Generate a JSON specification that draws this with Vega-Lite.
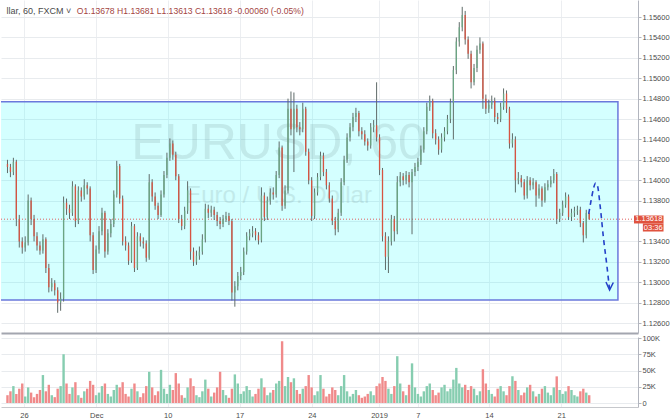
{
"$schema": "https://vega.github.io/schema/vega-lite/v6.json",
"padding": 0,
"background": "white",
"spacing": 1,
"config": {"view": {"stroke": null}, "axis": {"labelFont": "Liberation Sans", "labelFontSize": 7.5, "labelColor": "#4c4c4c", "labelOverlap": false}},
"datasets": {
"candles": [
{"k":0,"o":1.1416,"h":1.1420,"l":1.1407,"c":1.1413,"v":12000},
{"k":1,"o":1.1413,"h":1.1416,"l":1.1403,"c":1.1408,"v":18000},
{"k":2,"o":1.1408,"h":1.1422,"l":1.1405,"c":1.1418,"v":26000},
{"k":3,"o":1.1418,"h":1.1420,"l":1.1355,"c":1.1362,"v":14000},
{"k":4,"o":1.1362,"h":1.1366,"l":1.1334,"c":1.1340,"v":22000},
{"k":5,"o":1.1340,"h":1.1344,"l":1.1328,"c":1.1334,"v":30000},
{"k":6,"o":1.1334,"h":1.1345,"l":1.1330,"c":1.1339,"v":10000},
{"k":7,"o":1.1339,"h":1.1386,"l":1.1336,"c":1.1380,"v":24000},
{"k":8,"o":1.1380,"h":1.1383,"l":1.1356,"c":1.1362,"v":16000},
{"k":9,"o":1.1362,"h":1.1366,"l":1.1340,"c":1.1345,"v":9000},
{"k":10,"o":1.1345,"h":1.1349,"l":1.1331,"c":1.1336,"v":14000},
{"k":11,"o":1.1336,"h":1.1340,"l":1.1327,"c":1.1331,"v":20000},
{"k":12,"o":1.1331,"h":1.1347,"l":1.1328,"c":1.1342,"v":43000},
{"k":13,"o":1.1342,"h":1.1344,"l":1.1309,"c":1.1314,"v":18000},
{"k":14,"o":1.1314,"h":1.1318,"l":1.1290,"c":1.1295,"v":28000},
{"k":15,"o":1.1295,"h":1.1304,"l":1.1291,"c":1.1299,"v":12000},
{"k":16,"o":1.1299,"h":1.1302,"l":1.1287,"c":1.1292,"v":9000},
{"k":17,"o":1.1292,"h":1.1295,"l":1.1270,"c":1.1280,"v":22000},
{"k":18,"o":1.1280,"h":1.1290,"l":1.1272,"c":1.1284,"v":26000},
{"k":19,"o":1.1284,"h":1.1384,"l":1.1281,"c":1.1378,"v":75000},
{"k":20,"o":1.1378,"h":1.1382,"l":1.1366,"c":1.1372,"v":30000},
{"k":21,"o":1.1372,"h":1.1376,"l":1.1362,"c":1.1368,"v":14000},
{"k":22,"o":1.1368,"h":1.1399,"l":1.1365,"c":1.1394,"v":24000},
{"k":23,"o":1.1394,"h":1.1396,"l":1.1354,"c":1.1360,"v":32000},
{"k":24,"o":1.1360,"h":1.1394,"l":1.1357,"c":1.1390,"v":12000},
{"k":25,"o":1.1390,"h":1.1393,"l":1.1379,"c":1.1384,"v":8000},
{"k":26,"o":1.1384,"h":1.1401,"l":1.1381,"c":1.1395,"v":18000},
{"k":27,"o":1.1395,"h":1.1398,"l":1.1386,"c":1.1392,"v":22000},
{"k":28,"o":1.1392,"h":1.1394,"l":1.1340,"c":1.1346,"v":34000},
{"k":29,"o":1.1346,"h":1.1349,"l":1.1308,"c":1.1312,"v":28000},
{"k":30,"o":1.1312,"h":1.1336,"l":1.1309,"c":1.1332,"v":12000},
{"k":31,"o":1.1332,"h":1.1355,"l":1.1328,"c":1.1350,"v":16000},
{"k":32,"o":1.1350,"h":1.1373,"l":1.1346,"c":1.1368,"v":26000},
{"k":33,"o":1.1368,"h":1.1370,"l":1.1324,"c":1.1330,"v":30000},
{"k":34,"o":1.1330,"h":1.1352,"l":1.1327,"c":1.1348,"v":14000},
{"k":35,"o":1.1348,"h":1.1362,"l":1.1344,"c":1.1357,"v":10000},
{"k":36,"o":1.1357,"h":1.1390,"l":1.1354,"c":1.1386,"v":20000},
{"k":37,"o":1.1386,"h":1.1419,"l":1.1383,"c":1.1414,"v":28000},
{"k":38,"o":1.1414,"h":1.1416,"l":1.1377,"c":1.1382,"v":24000},
{"k":39,"o":1.1382,"h":1.1385,"l":1.1336,"c":1.1340,"v":32000},
{"k":40,"o":1.1340,"h":1.1345,"l":1.1331,"c":1.1336,"v":14000},
{"k":41,"o":1.1336,"h":1.1339,"l":1.1317,"c":1.1321,"v":10000},
{"k":42,"o":1.1321,"h":1.1359,"l":1.1319,"c":1.1355,"v":22000},
{"k":43,"o":1.1355,"h":1.1357,"l":1.1310,"c":1.1314,"v":30000},
{"k":44,"o":1.1314,"h":1.1349,"l":1.1312,"c":1.1345,"v":18000},
{"k":45,"o":1.1345,"h":1.1348,"l":1.1335,"c":1.1340,"v":9000},
{"k":46,"o":1.1340,"h":1.1344,"l":1.1333,"c":1.1338,"v":15000},
{"k":47,"o":1.1338,"h":1.1341,"l":1.1320,"c":1.1324,"v":26000},
{"k":48,"o":1.1324,"h":1.1406,"l":1.1322,"c":1.1398,"v":48000},
{"k":49,"o":1.1398,"h":1.1401,"l":1.1379,"c":1.1384,"v":24000},
{"k":50,"o":1.1384,"h":1.1388,"l":1.1371,"c":1.1375,"v":12000},
{"k":51,"o":1.1375,"h":1.1378,"l":1.1362,"c":1.1366,"v":18000},
{"k":52,"o":1.1366,"h":1.1390,"l":1.1364,"c":1.1386,"v":51000},
{"k":53,"o":1.1386,"h":1.1409,"l":1.1383,"c":1.1405,"v":22000},
{"k":54,"o":1.1405,"h":1.1427,"l":1.1402,"c":1.1422,"v":14000},
{"k":55,"o":1.1422,"h":1.1441,"l":1.1419,"c":1.1436,"v":28000},
{"k":56,"o":1.1436,"h":1.1439,"l":1.1420,"c":1.1425,"v":20000},
{"k":57,"o":1.1425,"h":1.1428,"l":1.1400,"c":1.1404,"v":46000},
{"k":58,"o":1.1404,"h":1.1406,"l":1.1358,"c":1.1362,"v":30000},
{"k":59,"o":1.1362,"h":1.1366,"l":1.1351,"c":1.1355,"v":12000},
{"k":60,"o":1.1355,"h":1.1374,"l":1.1352,"c":1.1370,"v":8000},
{"k":61,"o":1.1370,"h":1.1399,"l":1.1367,"c":1.1390,"v":24000},
{"k":62,"o":1.1390,"h":1.1392,"l":1.1322,"c":1.1330,"v":38000},
{"k":63,"o":1.1330,"h":1.1334,"l":1.1316,"c":1.1320,"v":26000},
{"k":64,"o":1.1320,"h":1.1331,"l":1.1317,"c":1.1326,"v":12000},
{"k":65,"o":1.1326,"h":1.1335,"l":1.1322,"c":1.1330,"v":9000},
{"k":66,"o":1.1330,"h":1.1347,"l":1.1327,"c":1.1342,"v":18000},
{"k":67,"o":1.1342,"h":1.1377,"l":1.1339,"c":1.1372,"v":36000},
{"k":68,"o":1.1372,"h":1.1376,"l":1.1363,"c":1.1368,"v":22000},
{"k":69,"o":1.1368,"h":1.1375,"l":1.1364,"c":1.1371,"v":10000},
{"k":70,"o":1.1371,"h":1.1374,"l":1.1361,"c":1.1366,"v":16000},
{"k":71,"o":1.1366,"h":1.1369,"l":1.1355,"c":1.1360,"v":24000},
{"k":72,"o":1.1360,"h":1.1364,"l":1.1352,"c":1.1357,"v":48000},
{"k":73,"o":1.1357,"h":1.1366,"l":1.1354,"c":1.1362,"v":20000},
{"k":74,"o":1.1362,"h":1.1369,"l":1.1359,"c":1.1365,"v":12000},
{"k":75,"o":1.1365,"h":1.1368,"l":1.1356,"c":1.1360,"v":8000},
{"k":76,"o":1.1360,"h":1.1362,"l":1.1282,"c":1.1290,"v":22000},
{"k":77,"o":1.1290,"h":1.1301,"l":1.1276,"c":1.1296,"v":44000},
{"k":78,"o":1.1296,"h":1.1310,"l":1.1292,"c":1.1306,"v":30000},
{"k":79,"o":1.1306,"h":1.1315,"l":1.1302,"c":1.1310,"v":14000},
{"k":80,"o":1.1310,"h":1.1334,"l":1.1307,"c":1.1330,"v":18000},
{"k":81,"o":1.1330,"h":1.1349,"l":1.1327,"c":1.1345,"v":26000},
{"k":82,"o":1.1345,"h":1.1352,"l":1.1341,"c":1.1348,"v":20000},
{"k":83,"o":1.1348,"h":1.1355,"l":1.1344,"c":1.1350,"v":10000},
{"k":84,"o":1.1350,"h":1.1353,"l":1.1341,"c":1.1346,"v":14000},
{"k":85,"o":1.1346,"h":1.1349,"l":1.1337,"c":1.1341,"v":22000},
{"k":86,"o":1.1341,"h":1.1393,"l":1.1339,"c":1.1385,"v":38000},
{"k":87,"o":1.1385,"h":1.1388,"l":1.1360,"c":1.1364,"v":24000},
{"k":88,"o":1.1364,"h":1.1384,"l":1.1361,"c":1.1380,"v":12000},
{"k":89,"o":1.1380,"h":1.1392,"l":1.1376,"c":1.1388,"v":16000},
{"k":90,"o":1.1388,"h":1.1393,"l":1.1381,"c":1.1386,"v":20000},
{"k":91,"o":1.1386,"h":1.1409,"l":1.1383,"c":1.1405,"v":30000},
{"k":92,"o":1.1405,"h":1.1438,"l":1.1402,"c":1.1432,"v":34000},
{"k":93,"o":1.1432,"h":1.1434,"l":1.1370,"c":1.1375,"v":95000},
{"k":94,"o":1.1375,"h":1.1395,"l":1.1372,"c":1.1390,"v":26000},
{"k":95,"o":1.1390,"h":1.1480,"l":1.1387,"c":1.1470,"v":40000},
{"k":96,"o":1.1470,"h":1.1487,"l":1.1444,"c":1.1450,"v":32000},
{"k":97,"o":1.1450,"h":1.1486,"l":1.1408,"c":1.1470,"v":38000},
{"k":98,"o":1.1470,"h":1.1474,"l":1.1447,"c":1.1452,"v":20000},
{"k":99,"o":1.1452,"h":1.1457,"l":1.1444,"c":1.1450,"v":14000},
{"k":100,"o":1.1450,"h":1.1476,"l":1.1447,"c":1.1470,"v":22000},
{"k":101,"o":1.1470,"h":1.1472,"l":1.1424,"c":1.1428,"v":26000},
{"k":102,"o":1.1428,"h":1.1431,"l":1.1396,"c":1.1400,"v":43000},
{"k":103,"o":1.1400,"h":1.1403,"l":1.1360,"c":1.1365,"v":24000},
{"k":104,"o":1.1365,"h":1.1392,"l":1.1362,"c":1.1388,"v":12000},
{"k":105,"o":1.1388,"h":1.1407,"l":1.1385,"c":1.1403,"v":18000},
{"k":106,"o":1.1403,"h":1.1428,"l":1.1400,"c":1.1424,"v":43000},
{"k":107,"o":1.1424,"h":1.1427,"l":1.1404,"c":1.1408,"v":22000},
{"k":108,"o":1.1408,"h":1.1411,"l":1.1391,"c":1.1395,"v":10000},
{"k":109,"o":1.1395,"h":1.1398,"l":1.1378,"c":1.1382,"v":14000},
{"k":110,"o":1.1382,"h":1.1385,"l":1.1356,"c":1.1360,"v":24000},
{"k":111,"o":1.1360,"h":1.1364,"l":1.1346,"c":1.1352,"v":20000},
{"k":112,"o":1.1352,"h":1.1372,"l":1.1349,"c":1.1368,"v":12000},
{"k":113,"o":1.1368,"h":1.1402,"l":1.1365,"c":1.1398,"v":26000},
{"k":114,"o":1.1398,"h":1.1424,"l":1.1395,"c":1.1420,"v":43000},
{"k":115,"o":1.1420,"h":1.1446,"l":1.1417,"c":1.1442,"v":18000},
{"k":116,"o":1.1442,"h":1.1456,"l":1.1438,"c":1.1452,"v":10000},
{"k":117,"o":1.1452,"h":1.1466,"l":1.1448,"c":1.1462,"v":14000},
{"k":118,"o":1.1462,"h":1.1471,"l":1.1457,"c":1.1466,"v":20000},
{"k":119,"o":1.1466,"h":1.1468,"l":1.1443,"c":1.1448,"v":12000},
{"k":120,"o":1.1448,"h":1.1452,"l":1.1440,"c":1.1445,"v":8000},
{"k":121,"o":1.1445,"h":1.1449,"l":1.1434,"c":1.1438,"v":10000},
{"k":122,"o":1.1438,"h":1.1441,"l":1.1429,"c":1.1434,"v":14000},
{"k":123,"o":1.1434,"h":1.1456,"l":1.1431,"c":1.1452,"v":18000},
{"k":124,"o":1.1452,"h":1.1459,"l":1.1447,"c":1.1454,"v":12000},
{"k":125,"o":1.1454,"h":1.1496,"l":1.1438,"c":1.1442,"v":26000},
{"k":126,"o":1.1442,"h":1.1445,"l":1.1405,"c":1.1410,"v":30000},
{"k":127,"o":1.1410,"h":1.1412,"l":1.1340,"c":1.1345,"v":40000},
{"k":128,"o":1.1345,"h":1.1349,"l":1.1312,"c":1.1325,"v":34000},
{"k":129,"o":1.1325,"h":1.1345,"l":1.1309,"c":1.1340,"v":22000},
{"k":130,"o":1.1340,"h":1.1366,"l":1.1336,"c":1.1362,"v":14000},
{"k":131,"o":1.1362,"h":1.1365,"l":1.1340,"c":1.1350,"v":26000},
{"k":132,"o":1.1350,"h":1.1404,"l":1.1347,"c":1.1398,"v":72000},
{"k":133,"o":1.1398,"h":1.1408,"l":1.1394,"c":1.1404,"v":30000},
{"k":134,"o":1.1404,"h":1.1407,"l":1.1395,"c":1.1400,"v":18000},
{"k":135,"o":1.1400,"h":1.1409,"l":1.1396,"c":1.1405,"v":12000},
{"k":136,"o":1.1405,"h":1.1408,"l":1.1393,"c":1.1398,"v":28000},
{"k":137,"o":1.1398,"h":1.1411,"l":1.1347,"c":1.1408,"v":61000},
{"k":138,"o":1.1408,"h":1.1417,"l":1.1404,"c":1.1413,"v":24000},
{"k":139,"o":1.1413,"h":1.1422,"l":1.1409,"c":1.1418,"v":14000},
{"k":140,"o":1.1418,"h":1.1434,"l":1.1415,"c":1.1430,"v":10000},
{"k":141,"o":1.1430,"h":1.1452,"l":1.1427,"c":1.1448,"v":18000},
{"k":142,"o":1.1448,"h":1.1476,"l":1.1445,"c":1.1472,"v":26000},
{"k":143,"o":1.1472,"h":1.1483,"l":1.1468,"c":1.1478,"v":30000},
{"k":144,"o":1.1478,"h":1.1480,"l":1.1441,"c":1.1446,"v":20000},
{"k":145,"o":1.1446,"h":1.1450,"l":1.1435,"c":1.1440,"v":12000},
{"k":146,"o":1.1440,"h":1.1443,"l":1.1425,"c":1.1430,"v":16000},
{"k":147,"o":1.1430,"h":1.1446,"l":1.1427,"c":1.1442,"v":24000},
{"k":148,"o":1.1442,"h":1.1452,"l":1.1438,"c":1.1448,"v":28000},
{"k":149,"o":1.1448,"h":1.1464,"l":1.1445,"c":1.1460,"v":18000},
{"k":150,"o":1.1460,"h":1.1480,"l":1.1456,"c":1.1476,"v":22000},
{"k":151,"o":1.1476,"h":1.1512,"l":1.1440,"c":1.1508,"v":36000},
{"k":152,"o":1.1508,"h":1.1540,"l":1.1504,"c":1.1536,"v":54000},
{"k":153,"o":1.1536,"h":1.1555,"l":1.1531,"c":1.1550,"v":30000},
{"k":154,"o":1.1550,"h":1.1570,"l":1.1546,"c":1.1562,"v":24000},
{"k":155,"o":1.1562,"h":1.1566,"l":1.1533,"c":1.1538,"v":28000},
{"k":156,"o":1.1538,"h":1.1541,"l":1.1519,"c":1.1524,"v":20000},
{"k":157,"o":1.1524,"h":1.1527,"l":1.1490,"c":1.1496,"v":26000},
{"k":158,"o":1.1496,"h":1.1514,"l":1.1493,"c":1.1510,"v":22000},
{"k":159,"o":1.1510,"h":1.1532,"l":1.1506,"c":1.1528,"v":12000},
{"k":160,"o":1.1528,"h":1.1540,"l":1.1524,"c":1.1534,"v":18000},
{"k":161,"o":1.1534,"h":1.1536,"l":1.1470,"c":1.1480,"v":52000},
{"k":162,"o":1.1480,"h":1.1484,"l":1.1465,"c":1.1470,"v":30000},
{"k":163,"o":1.1470,"h":1.1479,"l":1.1466,"c":1.1474,"v":20000},
{"k":164,"o":1.1474,"h":1.1483,"l":1.1470,"c":1.1478,"v":14000},
{"k":165,"o":1.1478,"h":1.1481,"l":1.1457,"c":1.1462,"v":10000},
{"k":166,"o":1.1462,"h":1.1466,"l":1.1455,"c":1.1460,"v":22000},
{"k":167,"o":1.1460,"h":1.1476,"l":1.1457,"c":1.1472,"v":26000},
{"k":168,"o":1.1472,"h":1.1490,"l":1.1469,"c":1.1485,"v":18000},
{"k":169,"o":1.1485,"h":1.1488,"l":1.1466,"c":1.1470,"v":12000},
{"k":170,"o":1.1470,"h":1.1472,"l":1.1431,"c":1.1436,"v":26000},
{"k":171,"o":1.1436,"h":1.1446,"l":1.1432,"c":1.1440,"v":41000},
{"k":172,"o":1.1440,"h":1.1443,"l":1.1388,"c":1.1400,"v":34000},
{"k":173,"o":1.1400,"h":1.1408,"l":1.1396,"c":1.1402,"v":20000},
{"k":174,"o":1.1402,"h":1.1405,"l":1.1393,"c":1.1398,"v":12000},
{"k":175,"o":1.1398,"h":1.1401,"l":1.1381,"c":1.1385,"v":16000},
{"k":176,"o":1.1385,"h":1.1404,"l":1.1382,"c":1.1400,"v":24000},
{"k":177,"o":1.1400,"h":1.1403,"l":1.1390,"c":1.1395,"v":28000},
{"k":178,"o":1.1395,"h":1.1402,"l":1.1391,"c":1.1398,"v":18000},
{"k":179,"o":1.1398,"h":1.1400,"l":1.1374,"c":1.1385,"v":10000},
{"k":180,"o":1.1385,"h":1.1396,"l":1.1382,"c":1.1392,"v":14000},
{"k":181,"o":1.1392,"h":1.1394,"l":1.1374,"c":1.1380,"v":22000},
{"k":182,"o":1.1380,"h":1.1397,"l":1.1378,"c":1.1393,"v":26000},
{"k":183,"o":1.1393,"h":1.1400,"l":1.1390,"c":1.1396,"v":16000},
{"k":184,"o":1.1396,"h":1.1404,"l":1.1393,"c":1.1400,"v":12000},
{"k":185,"o":1.1400,"h":1.1411,"l":1.1397,"c":1.1406,"v":24000},
{"k":186,"o":1.1406,"h":1.1408,"l":1.1357,"c":1.1362,"v":41000},
{"k":187,"o":1.1362,"h":1.1372,"l":1.1359,"c":1.1368,"v":20000},
{"k":188,"o":1.1368,"h":1.1380,"l":1.1365,"c":1.1376,"v":14000},
{"k":189,"o":1.1376,"h":1.1388,"l":1.1373,"c":1.1384,"v":18000},
{"k":190,"o":1.1384,"h":1.1386,"l":1.1361,"c":1.1364,"v":26000},
{"k":191,"o":1.1364,"h":1.1372,"l":1.1360,"c":1.1368,"v":20000},
{"k":192,"o":1.1368,"h":1.1374,"l":1.1364,"c":1.1370,"v":12000},
{"k":193,"o":1.1370,"h":1.1375,"l":1.1366,"c":1.1371,"v":10000},
{"k":194,"o":1.1371,"h":1.1374,"l":1.1354,"c":1.1358,"v":18000},
{"k":195,"o":1.1358,"h":1.1360,"l":1.1339,"c":1.1346,"v":22000},
{"k":196,"o":1.1346,"h":1.1371,"l":1.1343,"c":1.13678,"v":16000},
{"k":197,"o":1.13678,"h":1.13681,"l":1.13613,"c":1.13618,"v":12000}
],
"arrow": [
{"s":0,"k":196.83,"p":1.13669},
{"s":1,"k":197.67,"p":1.13806},
{"s":2,"k":198.5,"p":1.13924},
{"s":3,"k":199.17,"p":1.13973},
{"s":4,"k":199.83,"p":1.13943},
{"s":5,"k":200.67,"p":1.13757},
{"s":6,"k":201.83,"p":1.13433},
{"s":7,"k":203.0,"p":1.13159},
{"s":8,"k":203.83,"p":1.12943}
],
"head": [
{"s":0,"k":202.67,"p":1.13002},
{"s":1,"k":203.9,"p":1.12924},
{"s":2,"k":205.17,"p":1.12997}
]
},
"vconcat": [
{
"width": 637,
"height": 333,
"layer": [
{
"data": {"values": [{"k1": -3, "k2": 206.73, "p1": 1.12826, "p2": 1.14770}]},
"mark": {"type": "rect", "fill": "#00ffff", "fillOpacity": 0.17, "stroke": "#6a78dc", "strokeWidth": 1.5, "clip": true},
"encoding": {
"x": {"field": "k1", "type": "quantitative", "title": null, "scale": {"domain": [-0.5, 211.83], "nice": false, "zero": false},
"axis": {"title": null, "orient": "bottom", "labels": false, "ticks": false, "domainColor": "#a3a6af", "domainWidth": 2, "grid": true, "gridColor": "#eceef1", "values": [5.6, 30.07, 54.27, 78.6, 103.07, 125.83, 138.93, 163.07, 187.5]}},
"x2": {"field": "k2"},
"y": {"field": "p1", "type": "quantitative", "title": null, "scale": {"domain": [1.12502, 1.15767], "nice": false, "zero": false},
"axis": {"title": null, "orient": "right", "values": [1.126, 1.128, 1.13, 1.132, 1.134, 1.136, 1.138, 1.14, 1.142, 1.144, 1.146, 1.148, 1.15, 1.152, 1.154, 1.156], "labelExpr": "abs(datum.value - 1.136) < 0.0001 ? '' : format(datum.value, '.5f')", "labelOverlap": false, "grid": true, "gridColor": "#e8ebee", "domainColor": "#b2b5be", "tickColor": "#b2b5be", "tickSize": 3, "labelPadding": 1}},
"y2": {"field": "p2"}
}
},
{
"data": {"values": [{"k": 91.8, "p": 1.14355, "t": "EURUSD, 60"}]},
"mark": {"type": "text", "font": "Liberation Sans", "fontSize": 50, "fill": "#7a9a9a", "opacity": 0.2, "align": "center", "baseline": "middle"},
"encoding": {
"x": {"field": "k", "type": "quantitative", "title": null, "scale": {"domain": [-0.5, 211.83], "nice": false, "zero": false},
"axis": {"title": null, "orient": "bottom", "labels": false, "ticks": false, "domainColor": "#a3a6af", "domainWidth": 2, "grid": true, "gridColor": "#eceef1", "values": [5.6, 30.07, 54.27, 78.6, 103.07, 125.83, 138.93, 163.07, 187.5]}},
"y": {"field": "p", "type": "quantitative", "title": null, "scale": {"domain": [1.12502, 1.15767], "nice": false, "zero": false},
"axis": {"title": null, "orient": "right", "values": [1.126, 1.128, 1.13, 1.132, 1.134, 1.136, 1.138, 1.14, 1.142, 1.144, 1.146, 1.148, 1.15, 1.152, 1.154, 1.156], "labelExpr": "abs(datum.value - 1.136) < 0.0001 ? '' : format(datum.value, '.5f')", "labelOverlap": false, "grid": true, "gridColor": "#e8ebee", "domainColor": "#b2b5be", "tickColor": "#b2b5be", "tickSize": 3, "labelPadding": 1}},
"text": {"field": "t"}
}
},
{
"data": {"values": [{"k": 91.8, "p": 1.13845, "t": "Euro / U.S. Dollar"}]},
"mark": {"type": "text", "font": "Liberation Sans", "fontSize": 24, "fill": "#7a9a9a", "opacity": 0.2, "align": "center", "baseline": "middle"},
"encoding": {
"x": {"field": "k", "type": "quantitative", "title": null, "scale": {"domain": [-0.5, 211.83], "nice": false, "zero": false},
"axis": {"title": null, "orient": "bottom", "labels": false, "ticks": false, "domainColor": "#a3a6af", "domainWidth": 2, "grid": true, "gridColor": "#eceef1", "values": [5.6, 30.07, 54.27, 78.6, 103.07, 125.83, 138.93, 163.07, 187.5]}},
"y": {"field": "p", "type": "quantitative", "title": null, "scale": {"domain": [1.12502, 1.15767], "nice": false, "zero": false},
"axis": {"title": null, "orient": "right", "values": [1.126, 1.128, 1.13, 1.132, 1.134, 1.136, 1.138, 1.14, 1.142, 1.144, 1.146, 1.148, 1.15, 1.152, 1.154, 1.156], "labelExpr": "abs(datum.value - 1.136) < 0.0001 ? '' : format(datum.value, '.5f')", "labelOverlap": false, "grid": true, "gridColor": "#e8ebee", "domainColor": "#b2b5be", "tickColor": "#b2b5be", "tickSize": 3, "labelPadding": 1}},
"text": {"field": "t"}
}
},
{
"data": {"values": [{"p": 1.13618}]},
"mark": {"type": "rule", "color": "#e06060", "strokeDash": [1, 2], "strokeWidth": 1},
"encoding": {
"y": {"field": "p", "type": "quantitative", "title": null, "scale": {"domain": [1.12502, 1.15767], "nice": false, "zero": false},
"axis": {"title": null, "orient": "right", "values": [1.126, 1.128, 1.13, 1.132, 1.134, 1.136, 1.138, 1.14, 1.142, 1.144, 1.146, 1.148, 1.15, 1.152, 1.154, 1.156], "labelExpr": "abs(datum.value - 1.136) < 0.0001 ? '' : format(datum.value, '.5f')", "labelOverlap": false, "grid": true, "gridColor": "#e8ebee", "domainColor": "#b2b5be", "tickColor": "#b2b5be", "tickSize": 3, "labelPadding": 1}}
}
},
{
"data": {"name": "candles"},
"mark": {"type": "rule", "color": "#5f6b69", "strokeWidth": 1},
"encoding": {
"x": {"field": "k", "type": "quantitative", "title": null, "scale": {"domain": [-0.5, 211.83], "nice": false, "zero": false},
"axis": {"title": null, "orient": "bottom", "labels": false, "ticks": false, "domainColor": "#a3a6af", "domainWidth": 2, "grid": true, "gridColor": "#eceef1", "values": [5.6, 30.07, 54.27, 78.6, 103.07, 125.83, 138.93, 163.07, 187.5]}},
"y": {"field": "l", "type": "quantitative", "title": null, "scale": {"domain": [1.12502, 1.15767], "nice": false, "zero": false},
"axis": {"title": null, "orient": "right", "values": [1.126, 1.128, 1.13, 1.132, 1.134, 1.136, 1.138, 1.14, 1.142, 1.144, 1.146, 1.148, 1.15, 1.152, 1.154, 1.156], "labelExpr": "abs(datum.value - 1.136) < 0.0001 ? '' : format(datum.value, '.5f')", "labelOverlap": false, "grid": true, "gridColor": "#e8ebee", "domainColor": "#b2b5be", "tickColor": "#b2b5be", "tickSize": 3, "labelPadding": 1}},
"y2": {"field": "h"}
}
},
{
"data": {"name": "candles"},
"mark": {"type": "bar", "size": 1.3},
"encoding": {
"x": {"field": "k", "type": "quantitative", "title": null, "scale": {"domain": [-0.5, 211.83], "nice": false, "zero": false},
"axis": {"title": null, "orient": "bottom", "labels": false, "ticks": false, "domainColor": "#a3a6af", "domainWidth": 2, "grid": true, "gridColor": "#eceef1", "values": [5.6, 30.07, 54.27, 78.6, 103.07, 125.83, 138.93, 163.07, 187.5]}},
"y": {"field": "o", "type": "quantitative", "title": null, "scale": {"domain": [1.12502, 1.15767], "nice": false, "zero": false},
"axis": {"title": null, "orient": "right", "values": [1.126, 1.128, 1.13, 1.132, 1.134, 1.136, 1.138, 1.14, 1.142, 1.144, 1.146, 1.148, 1.15, 1.152, 1.154, 1.156], "labelExpr": "abs(datum.value - 1.136) < 0.0001 ? '' : format(datum.value, '.5f')", "labelOverlap": false, "grid": true, "gridColor": "#e8ebee", "domainColor": "#b2b5be", "tickColor": "#b2b5be", "tickSize": 3, "labelPadding": 1}},
"y2": {"field": "c"},
"color": {"condition": {"test": "datum.c >= datum.o", "value": "#6ba583"}, "value": "#d75442"}
}
},
{
"data": {"name": "arrow"},
"mark": {"type": "line", "color": "#2440c8", "strokeWidth": 1.6, "strokeDash": [5, 4], "interpolate": "monotone"},
"encoding": {
"x": {"field": "k", "type": "quantitative", "title": null, "scale": {"domain": [-0.5, 211.83], "nice": false, "zero": false},
"axis": {"title": null, "orient": "bottom", "labels": false, "ticks": false, "domainColor": "#a3a6af", "domainWidth": 2, "grid": true, "gridColor": "#eceef1", "values": [5.6, 30.07, 54.27, 78.6, 103.07, 125.83, 138.93, 163.07, 187.5]}},
"y": {"field": "p", "type": "quantitative", "title": null, "scale": {"domain": [1.12502, 1.15767], "nice": false, "zero": false},
"axis": {"title": null, "orient": "right", "values": [1.126, 1.128, 1.13, 1.132, 1.134, 1.136, 1.138, 1.14, 1.142, 1.144, 1.146, 1.148, 1.15, 1.152, 1.154, 1.156], "labelExpr": "abs(datum.value - 1.136) < 0.0001 ? '' : format(datum.value, '.5f')", "labelOverlap": false, "grid": true, "gridColor": "#e8ebee", "domainColor": "#b2b5be", "tickColor": "#b2b5be", "tickSize": 3, "labelPadding": 1}},
"order": {"field": "s"}
}
},
{
"data": {"name": "head"},
"mark": {"type": "line", "color": "#2440c8", "strokeWidth": 1.5},
"encoding": {
"x": {"field": "k", "type": "quantitative", "title": null, "scale": {"domain": [-0.5, 211.83], "nice": false, "zero": false},
"axis": {"title": null, "orient": "bottom", "labels": false, "ticks": false, "domainColor": "#a3a6af", "domainWidth": 2, "grid": true, "gridColor": "#eceef1", "values": [5.6, 30.07, 54.27, 78.6, 103.07, 125.83, 138.93, 163.07, 187.5]}},
"y": {"field": "p", "type": "quantitative", "title": null, "scale": {"domain": [1.12502, 1.15767], "nice": false, "zero": false},
"axis": {"title": null, "orient": "right", "values": [1.126, 1.128, 1.13, 1.132, 1.134, 1.136, 1.138, 1.14, 1.142, 1.144, 1.146, 1.148, 1.15, 1.152, 1.154, 1.156], "labelExpr": "abs(datum.value - 1.136) < 0.0001 ? '' : format(datum.value, '.5f')", "labelOverlap": false, "grid": true, "gridColor": "#e8ebee", "domainColor": "#b2b5be", "tickColor": "#b2b5be", "tickSize": 3, "labelPadding": 1}},
"order": {"field": "s"}
}
},
{
"data": {"values": [{"k": -0.3, "p": 1.15659, "t": "llar, 60, FXCM ˅"}]},
"mark": {"type": "text", "font": "Liberation Sans", "fontSize": 9, "fill": "#4a4a4a", "align": "left", "baseline": "middle"},
"encoding": {
"x": {"field": "k", "type": "quantitative", "title": null, "scale": {"domain": [-0.5, 211.83], "nice": false, "zero": false},
"axis": {"title": null, "orient": "bottom", "labels": false, "ticks": false, "domainColor": "#a3a6af", "domainWidth": 2, "grid": true, "gridColor": "#eceef1", "values": [5.6, 30.07, 54.27, 78.6, 103.07, 125.83, 138.93, 163.07, 187.5]}},
"y": {"field": "p", "type": "quantitative", "title": null, "scale": {"domain": [1.12502, 1.15767], "nice": false, "zero": false},
"axis": {"title": null, "orient": "right", "values": [1.126, 1.128, 1.13, 1.132, 1.134, 1.136, 1.138, 1.14, 1.142, 1.144, 1.146, 1.148, 1.15, 1.152, 1.154, 1.156], "labelExpr": "abs(datum.value - 1.136) < 0.0001 ? '' : format(datum.value, '.5f')", "labelOverlap": false, "grid": true, "gridColor": "#e8ebee", "domainColor": "#b2b5be", "tickColor": "#b2b5be", "tickSize": 3, "labelPadding": 1}},
"text": {"field": "t"}
}
},
{
"data": {"values": [{"k": 23.5, "p": 1.15659, "t": "O1.13678 H1.13681 L1.13613 C1.13618 -0.00060 (-0.05%)"}]},
"mark": {"type": "text", "font": "Liberation Sans", "fontSize": 8.6, "fill": "#a3453f", "align": "left", "baseline": "middle"},
"encoding": {
"x": {"field": "k", "type": "quantitative", "title": null, "scale": {"domain": [-0.5, 211.83], "nice": false, "zero": false},
"axis": {"title": null, "orient": "bottom", "labels": false, "ticks": false, "domainColor": "#a3a6af", "domainWidth": 2, "grid": true, "gridColor": "#eceef1", "values": [5.6, 30.07, 54.27, 78.6, 103.07, 125.83, 138.93, 163.07, 187.5]}},
"y": {"field": "p", "type": "quantitative", "title": null, "scale": {"domain": [1.12502, 1.15767], "nice": false, "zero": false},
"axis": {"title": null, "orient": "right", "values": [1.126, 1.128, 1.13, 1.132, 1.134, 1.136, 1.138, 1.14, 1.142, 1.144, 1.146, 1.148, 1.15, 1.152, 1.154, 1.156], "labelExpr": "abs(datum.value - 1.136) < 0.0001 ? '' : format(datum.value, '.5f')", "labelOverlap": false, "grid": true, "gridColor": "#e8ebee", "domainColor": "#b2b5be", "tickColor": "#b2b5be", "tickSize": 3, "labelPadding": 1}},
"text": {"field": "t"}
}
},
{
"data": {"values": [{"k1": 212.17, "k2": 222.17, "p1": 1.13576, "p2": 1.13654}, {"k1": 215.17, "k2": 222.17, "p1": 1.13497, "p2": 1.13576}]},
"mark": {"type": "rect", "fill": "#e0533f"},
"encoding": {
"x": {"field": "k1", "type": "quantitative", "title": null, "scale": {"domain": [-0.5, 211.83], "nice": false, "zero": false},
"axis": {"title": null, "orient": "bottom", "labels": false, "ticks": false, "domainColor": "#a3a6af", "domainWidth": 2, "grid": true, "gridColor": "#eceef1", "values": [5.6, 30.07, 54.27, 78.6, 103.07, 125.83, 138.93, 163.07, 187.5]}},
"x2": {"field": "k2"},
"y": {"field": "p1", "type": "quantitative", "title": null, "scale": {"domain": [1.12502, 1.15767], "nice": false, "zero": false},
"axis": {"title": null, "orient": "right", "values": [1.126, 1.128, 1.13, 1.132, 1.134, 1.136, 1.138, 1.14, 1.142, 1.144, 1.146, 1.148, 1.15, 1.152, 1.154, 1.156], "labelExpr": "abs(datum.value - 1.136) < 0.0001 ? '' : format(datum.value, '.5f')", "labelOverlap": false, "grid": true, "gridColor": "#e8ebee", "domainColor": "#b2b5be", "tickColor": "#b2b5be", "tickSize": 3, "labelPadding": 1}},
"y2": {"field": "p2"}
}
},
{
"data": {"values": [{"k": 217.17, "p": 1.13615, "t": "1.13618"}, {"k": 218.67, "p": 1.13536, "t": "03:36"}]},
"mark": {"type": "text", "font": "Liberation Sans", "fontSize": 7.5, "fill": "white", "align": "center", "baseline": "middle"},
"encoding": {
"x": {"field": "k", "type": "quantitative", "title": null, "scale": {"domain": [-0.5, 211.83], "nice": false, "zero": false},
"axis": {"title": null, "orient": "bottom", "labels": false, "ticks": false, "domainColor": "#a3a6af", "domainWidth": 2, "grid": true, "gridColor": "#eceef1", "values": [5.6, 30.07, 54.27, 78.6, 103.07, 125.83, 138.93, 163.07, 187.5]}},
"y": {"field": "p", "type": "quantitative", "title": null, "scale": {"domain": [1.12502, 1.15767], "nice": false, "zero": false},
"axis": {"title": null, "orient": "right", "values": [1.126, 1.128, 1.13, 1.132, 1.134, 1.136, 1.138, 1.14, 1.142, 1.144, 1.146, 1.148, 1.15, 1.152, 1.154, 1.156], "labelExpr": "abs(datum.value - 1.136) < 0.0001 ? '' : format(datum.value, '.5f')", "labelOverlap": false, "grid": true, "gridColor": "#e8ebee", "domainColor": "#b2b5be", "tickColor": "#b2b5be", "tickSize": 3, "labelPadding": 1}},
"text": {"field": "t"}
}
}
]
},
{
"width": 637,
"height": 70,
"data": {"name": "candles"},
"mark": {"type": "bar", "size": 2.4},
"encoding": {
"x": {"field": "k", "type": "quantitative", "scale": {"domain": [-0.5, 211.83], "nice": false, "zero": false},
"axis": {"title": null, "orient": "bottom", "values": [5.6, 30.07, 54.27, 78.6, 103.07, 125.83, 138.93, 163.07, 187.5], "labelExpr": "['26','Dec','10','17','24','2019','7','14','21'][indexof([5.6,30.07,54.27,78.6,103.07,125.83,138.93,163.07,187.5], datum.value)]", "ticks": false, "labelPadding": 4, "grid": true, "gridColor": "#eceef1", "domainColor": "#c6c8cc"}},
"y": {"field": "v", "type": "quantitative", "scale": {"domain": [-6150, 101540], "nice": false, "zero": false},
"axis": {"title": null, "orient": "right", "values": [0, 25000, 50000, 75000, 100000], "labelExpr": "datum.value == 0 ? '0' : (datum.value / 1000) + 'K'", "grid": true, "gridColor": "#e8ebee", "domainColor": "#b2b5be", "tickColor": "#b2b5be", "tickSize": 3, "labelPadding": 1}},
"y2": {"datum": 0},
"color": {"condition": {"test": "datum.c >= datum.o", "value": "#86cdb0"}, "value": "#f08a8a"}
}
}
]
}
